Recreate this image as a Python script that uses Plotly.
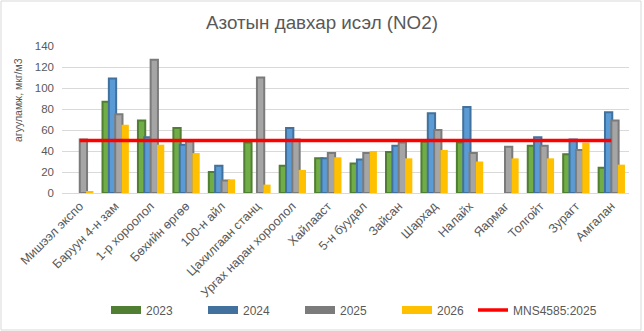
import plotly.graph_objects as go

# Monitoring stations
stations = [
    "Мишээл экспо", "Баруун 4-н зам", "1-р хороолол", "Бөхийн өргөө", "100-н айл",
    "Цахилгаан станц", "Ургах наран хороолол", "Хайлааст", "5-н буудал", "Зайсан",
    "Шархад", "Налайх", "Яармаг", "Толгойт", "Зурагт", "Амгалан",
]

# NO2 concentration by year, мкг/м3 (None = no measurement)
no2_2023 = [None, 87, 69, 62, 20, 48, 26, 33, 28, 39, 49, 48, None, 45, 37, 24]
no2_2024 = [None, 109, 53, 46, 26, None, 62, 33, 32, 45, 76, 82, None, 53, 51, 77]
no2_2025 = [51, 75, 127, 49, 12, 110, 51, 38, 38, 48, 60, 38, 44, 45, 41, 69]
no2_2026 = [1, 65, 46, 38, 13, 8, 22, 34, 40, 33, 41, 30, 33, 33, 48, 27]

# Standard limit MNS4585:2025
limit_value = 50
limit_name = "MNS4585:2025"

y_ticks = [0, 20, 40, 60, 80, 100, 120, 140]

W, H = 644, 331
ML, MR, MT, MB = 62, 15, 46, 138
PW, PH = W - ML - MR, H - MT - MB

FONT = "Liberation Sans, Arial, sans-serif"
TXT = "#595959"

series = [
    ("2023", no2_2023, "#70AD47", "#507E32"),
    ("2024", no2_2024, "#5B9BD5", "#41719C"),
    ("2025", no2_2025, "#A5A5A5", "#7B7B7B"),
    ("2026", no2_2026, "#FFC000", None),
]
offsets = [-0.357, -0.178, 0.001, 0.180]
bar_w = 0.206

fig = go.Figure()
for (name, vals, fill, edge), off in zip(series, offsets):
    fig.add_trace(go.Bar(
        x=stations, y=vals, name=name, offset=off, width=bar_w,
        marker=dict(color=fill,
                    line=dict(color=edge if edge else fill, width=2 if edge else 0)),
        showlegend=False, legendgroup=name,
    ))

# Legend entries drawn as wide swatches
for name, vals, fill, edge in series:
    fig.add_trace(go.Scatter(
        x=[None], y=[None], mode="lines", name=name, legendgroup=name,
        line=dict(color=edge if edge else fill, width=8),
    ))

fig.add_trace(go.Scatter(
    x=stations, y=[limit_value] * len(stations), mode="lines", name=limit_name,
    line=dict(color="#FF0000", width=3.5), legend="legend2",
))

def px_x(px):
    return (px - ML) / PW

def px_y(py):
    return (H - MB - py) / PH

legend_common = dict(orientation="h", xanchor="left", yanchor="middle",
                     yref="container", y=1 - 310 / H,
                     font=dict(size=12, color=TXT), itemwidth=30,
                     bgcolor="rgba(0,0,0,0)", tracegroupgap=0)

fig.update_layout(
    width=W, height=H,
    margin=dict(l=ML, r=MR, t=MT, b=MB, autoexpand=False),
    paper_bgcolor="white", plot_bgcolor="white",
    barmode="overlay",
    font=dict(family=FONT, color=TXT, size=12),
    title=dict(text="Азотын давхар исэл (NO2)", x=322 / W, xanchor="center",
               xref="container", y=1 - 22 / H, yref="container", yanchor="middle",
               font=dict(size=18.8, color=TXT, family=FONT)),
    xaxis=dict(type="category", tickangle=-45, showgrid=False, ticks="",
               showline=True, linecolor="#D9D9D9", linewidth=1,
               tickfont=dict(size=12.5, color=TXT)),
    yaxis=dict(range=[0, 140], tickvals=y_ticks, showgrid=True, gridcolor="#D9D9D9",
               gridwidth=1, zeroline=False, showline=False, ticks="",
               ticklabelstandoff=7, tickfont=dict(size=11.5, color=TXT)),
    legend=dict(x=px_x(106), entrywidth=52, entrywidthmode="pixels", **legend_common),
    legend2=dict(x=px_x(473), **legend_common),
    annotations=[dict(text="агууламж, мкг/м3", textangle=-90, xref="paper", yref="paper",
                      x=px_x(18), y=px_y(100), xanchor="center", yanchor="middle",
                      showarrow=False, font=dict(size=10.5, color=TXT, family=FONT))],
    shapes=[dict(type="rect", xref="paper", yref="paper",
                 x0=px_x(1), x1=px_x(641), y0=px_y(330), y1=px_y(1),
                 line=dict(color="#D9D9D9", width=1), fillcolor="rgba(0,0,0,0)",
                 layer="below")],
)

fig.write_html("out.html")
